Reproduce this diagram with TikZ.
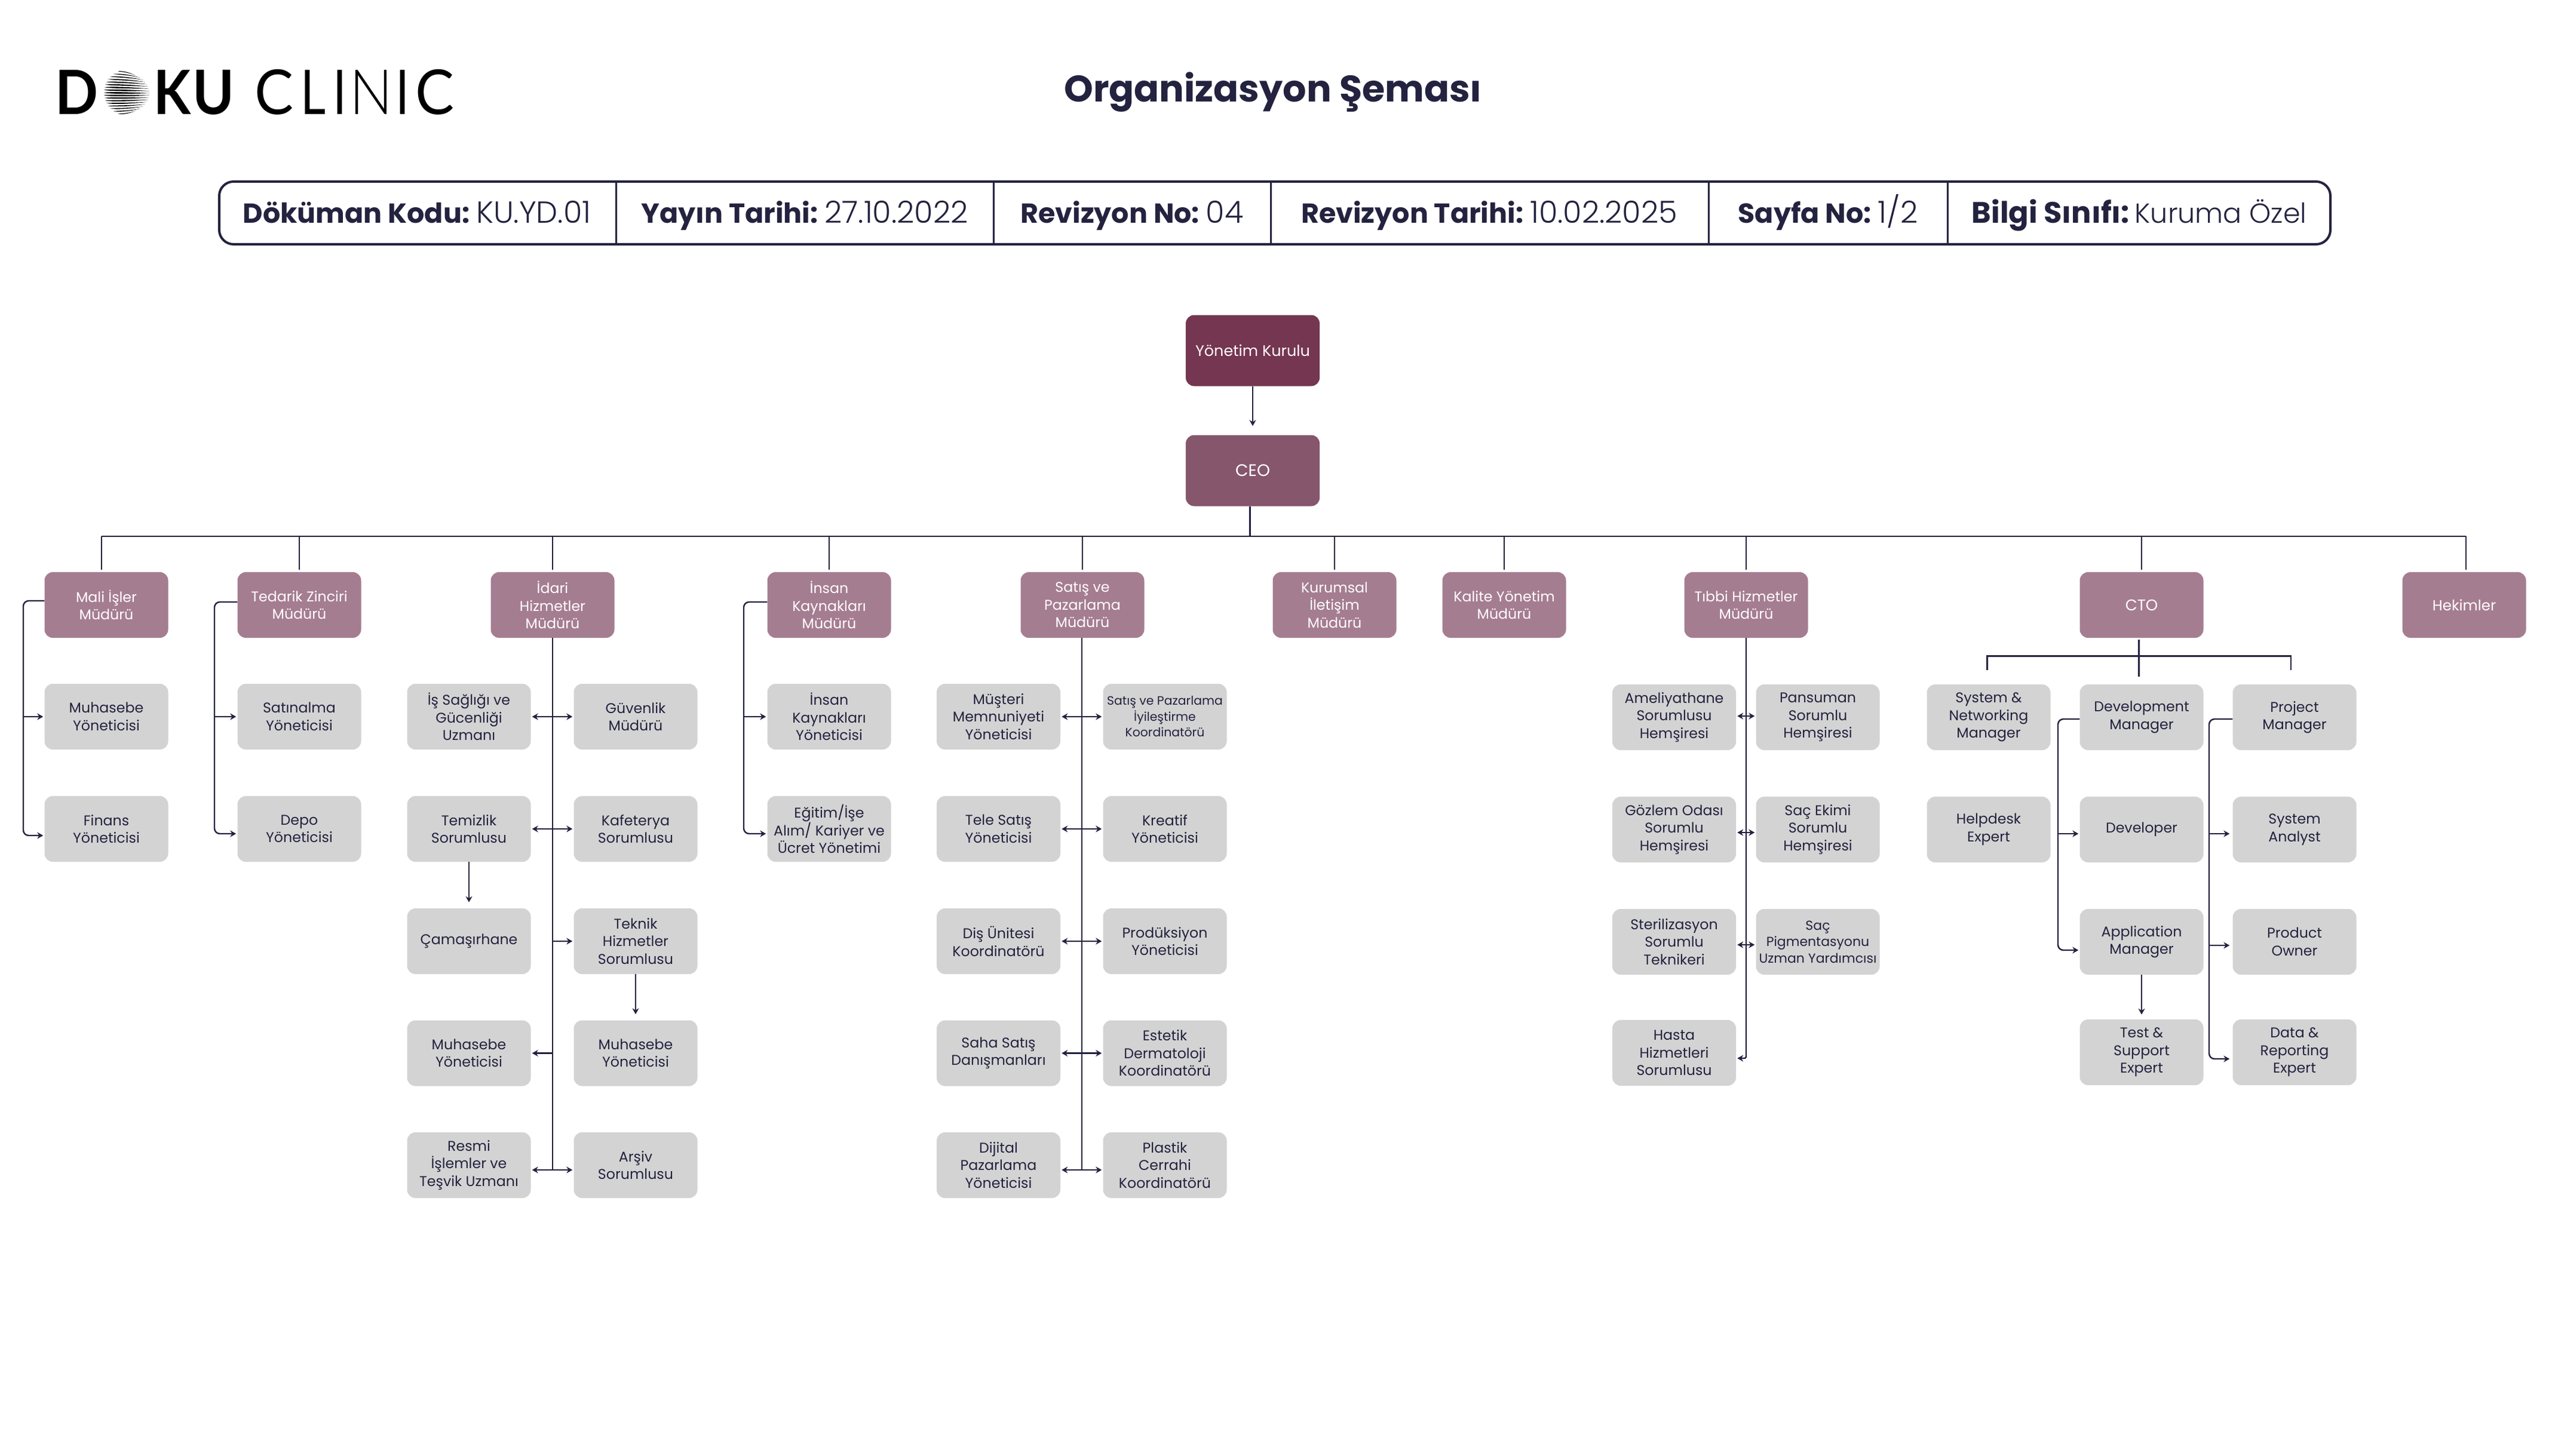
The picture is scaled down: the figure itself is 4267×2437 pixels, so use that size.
\documentclass[tikz,border=0pt]{standalone}
\usepackage{fontspec}
\setmainfont{Poppins}
\newfontfamily\hdrlight{Poppins}[UprightFont=* Light]
\newfontfamily\logobold{Lato}[UprightFont=* Bold]
\newfontfamily\logoreg{Lato}
\newfontfamily\logolight{Lato}[UprightFont=* Light]
\usetikzlibrary{arrows.meta,calc}
\definecolor{navy}{HTML}{23223F}
\definecolor{boardc}{HTML}{743650}
\definecolor{ceoc}{HTML}{85566C}
\definecolor{mgrc}{HTML}{A57D90}
\definecolor{staffc}{HTML}{D3D3D3}
\tikzset{
  box/.style={rounded corners=14pt,minimum width=207pt,minimum height=110pt,inner sep=0pt,align=center,font=\fontsize{23.7}{29.5}\selectfont},
  board/.style={box,fill=boardc,text=white,minimum width=224pt,minimum height=119pt},
  ceobox/.style={box,fill=ceoc,text=white,minimum width=224pt,minimum height=119pt},
  mgr/.style={box,fill=mgrc,text=white},
  staff/.style={box,fill=staffc,text=navy},
  small/.style={font=\fontsize{20.4}{26.5}\selectfont},
  smallb/.style={font=\fontsize{22}{27.5}\selectfont},
  conn/.style={draw=navy,line width=2.4pt},
  arr/.style={conn,-{Stealth[length=10pt,width=11pt]},shorten >=2pt},
  dbl/.style={conn,{Stealth[length=10pt,width=11pt]}-{Stealth[length=10pt,width=11pt]},shorten >=2pt,shorten <=2pt},
  elbow/.style={arr,rounded corners=9pt},
  hdrtext/.style={anchor=base,inner sep=0pt,text=navy},
  logoL/.style={anchor=south west,inner sep=0pt,text=black},
}
\newcommand{\hcell}[2]{{\fontsize{46}{60}\selectfont\bfseries #1}\hspace{11pt}{\fontsize{51}{60}\selectfont\hdrlight #2}}
\newcommand{\hcellw}[2]{{\fontsize{49.5}{60}\selectfont\bfseries #1}\hspace{9pt}{\fontsize{46}{60}\selectfont\hdrlight #2}}
\newcommand{\lgl}[3]{\resizebox*{#1pt}{#2pt}{#3}}
\begin{document}
\begin{tikzpicture}[x=1pt,y=-1pt]
\useasboundingbox (0,0) rectangle (4267,2437);
% logo
\node[logoL] (lD) at (92,192) {\lgl{72}{74}{\logobold D}};
\node[logoL] (lK) at (257,192) {\lgl{62}{74}{\logobold K}};
\node[logoL] (lU) at (322,193) {\lgl{70}{75}{\logobold U}};
\node[logoL] (lC1) at (426,193) {\lgl{65}{76}{\logoreg C}};
\node[logoL] (lL) at (503,192) {\lgl{42}{74}{\logoreg L}};
\node[logoL] (lI1) at (560.5,192) {\lgl{17}{74}{\logobold I}};
\node[logoL] (lN) at (585,192) {\lgl{72}{74}{\logolight N}};
\node[logoL] (lI2) at (665.5,192) {\lgl{17}{74}{\logobold I}};
\node[logoL] (lC2) at (695,193) {\lgl{65}{76}{\logoreg C}};
\foreach \i in {-8,...,8}{
  \pgfmathsetmacro{\yz}{155+\i*4.45}
  \pgfmathsetmacro{\hw}{sqrt(max(1,38.5*38.5-(\i*4.45)*(\i*4.45)))}
  \pgfmathsetmacro{\xl}{212-\hw}
  \pgfmathsetmacro{\xr}{212+\hw}
  \pgfmathsetmacro{\yr}{155+\i*3.7+1}
  \pgfmathsetmacro{\th}{1.7*(1-abs(\i)/14)}
  \fill[black] (\xl,\yz) .. controls ({\xl+0.3*\hw},{\yz-\th}) and ({\xl+1.1*\hw},{\yz-0.4*\th}) .. (\xr,\yr)
     .. controls ({\xl+1.1*\hw},{\yz+1.3*\th}) and ({\xl+0.3*\hw},{\yz+1.6*\th}) .. (\xl,\yz);
}
% title
\node[anchor=base,inner sep=0pt,text=navy,font=\fontsize{62}{64}\selectfont\bfseries] (title) at (2131,170) {Organizasyon Şeması};
% header table
\node[draw=navy,line width=4pt,rounded corners=24pt,minimum width=3534pt,minimum height=105pt,inner sep=0pt] (hdr) at (2134,356.5) {};
\foreach \x/\n in {1031/a,1663/b,2127/c,2860/d,3260/e}{
  \coordinate (div\n) at (\x,0);
  \draw[navy,line width=3pt] (div\n |- hdr.north) -- (div\n |- hdr.south);
}
\node[hdrtext] (h1) at (698,373) {\hcell{Döküman Kodu:}{KU.YD.01}};
\node[hdrtext] (h2) at (1347,373) {\hcell{Yayın Tarihi:}{27.10.2022}};
\node[hdrtext] (h3) at (1895,373) {\hcell{Revizyon No:}{04}};
\node[hdrtext] (h4) at (2493,373) {\hcell{Revizyon Tarihi:}{10.02.2025}};
\node[hdrtext] (h5) at (3060,373) {\hcell{Sayfa No:}{1/2}};
\node[hdrtext] (h6) at (3581,373) {\hcellw{Bilgi Sınıfı:}{Kuruma Özel}};
% top
\node[board,font=\fontsize{25.5}{30}\selectfont] (yk) at (2097,587) {Yönetim Kurulu};
\node[ceobox,font=\fontsize{28}{30}\selectfont] (ceo) at (2097,788) {CEO};
\draw[arr,shorten >=15pt] (yk.south) -- (ceo.north);
% managers
\node[mgr] (mali) at (178,1013) {Mali İşler\\Müdürü};
\node[mgr] (ted) at (501,1013) {Tedarik Zinciri\\Müdürü};
\node[mgr] (ida) at (925,1013) {İdari\\Hizmetler\\Müdürü};
\node[mgr] (ins) at (1388,1013) {İnsan\\Kaynakları\\Müdürü};
\node[mgr] (sat) at (1812,1013) {Satış ve\\Pazarlama\\Müdürü};
\node[mgr] (kur) at (2234,1013) {Kurumsal\\İletişim\\Müdürü};
\node[mgr] (kal) at (2518,1013) {Kalite Yönetim\\Müdürü};
\node[mgr] (tib) at (2923,1013) {Tıbbi Hizmetler\\Müdürü};
\node[mgr,font=\fontsize{26}{30}\selectfont] (cto) at (3585,1013) {CTO};
\node[mgr,font=\fontsize{24.5}{30}\selectfont] (hek) at (4125,1013) {Hekimler};
% bus
\coordinate (bus) at (0,898);
\coordinate (ceoO) at ([xshift=-4.5pt]ceo.south);
\coordinate (maliI) at ([xshift=-8pt,yshift=4pt]mali.north);
\coordinate (hekI) at ([xshift=3pt,yshift=4pt]hek.north);
\draw[conn,line width=3pt] (ceoO) -- (bus -| ceoO);
\draw[conn,line width=2.8pt] (bus -| maliI) -- (bus -| hekI);
\draw[conn] (bus -| maliI) -- (maliI);
\foreach \n in {ted,ida,ins,sat,kur,kal,tib,cto}{
  \draw[conn] (bus -| \n.north) -- ([yshift=4pt]\n.north);
}
\draw[conn] (bus -| hekI) -- (hekI);
% Mali
\node[staff] (m1) at (178,1200) {Muhasebe\\Yöneticisi};
\node[staff] (m2) at (178,1388) {Finans\\Yöneticisi};
\coordinate (sm) at (39,1006);
\draw[elbow] ([yshift=7pt]mali.west) -- (sm) |- ([yshift=-11pt]m2.west);
\draw[arr] (sm |- m1.west) -- (m1.west);
% Tedarik
\node[staff] (t1) at (501,1200) {Satınalma\\Yöneticisi};
\node[staff] (t2) at (501,1388) {Depo\\Yöneticisi};
\coordinate (st) at (359,1008);
\draw[elbow] ([yshift=5pt]ted.west) -- (st) |- ([yshift=-8pt]t2.west);
\draw[arr] (st |- t1.west) -- (t1.west);
% Insan
\node[staff] (i1) at (1388,1200) {İnsan\\Kaynakları\\Yöneticisi};
\node[staff] (i2) at (1388,1388) {Eğitim/İşe\\Alım/ Kariyer ve\\Ücret Yönetimi};
\coordinate (si) at (1245,1008);
\draw[elbow] ([yshift=5pt]ins.west) -- (si) |- ([yshift=-8pt]i2.west);
\draw[arr] (si |- i1.west) -- (i1.west);
% Idari
\node[staff] (a1) at (785,1200) {İş Sağlığı ve\\Gücenliği\\Uzmanı};
\node[staff] (b1) at (1064,1200) {Güvenlik\\Müdürü};
\node[staff] (a2) at (785,1388) {Temizlik\\Sorumlusu};
\node[staff] (b2) at (1064,1388) {Kafeterya\\Sorumlusu};
\node[staff] (a3) at (785,1576) {Çamaşırhane};
\node[staff] (b3) at (1064,1576) {Teknik\\Hizmetler\\Sorumlusu};
\node[staff] (a4) at (785,1763.5) {Muhasebe\\Yöneticisi};
\node[staff] (b4) at (1064,1763.5) {Muhasebe\\Yöneticisi};
\node[staff] (a5) at (785,1951) {Resmi\\İşlemler ve\\Teşvik Uzmanı};
\node[staff] (b5) at (1064,1951) {Arşiv\\Sorumlusu};
\coordinate (sa) at (925,1959);
\draw[conn] (ida.south) -- (sa);
\draw[dbl] (a1.east) -- (b1.west);
\draw[dbl] (a2.east) -- (b2.west);
\draw[arr] (sa |- b3.west) -- (b3.west);
\draw[arr] (sa |- a4.east) -- (a4.east);
\draw[dbl] ([yshift=-8pt]a5.east) -- ([yshift=-8pt]b5.west);
\draw[arr,shorten >=10pt] (a2.south) -- (a3.north);
\draw[arr,shorten >=10pt] (b3.south) -- (b4.north);
% Satis
\node[staff] (c1) at (1671.5,1200) {Müşteri\\Memnuniyeti\\Yöneticisi};
\node[staff,small] (d1) at (1950,1200) {Satış ve Pazarlama\\İyileştirme\\Koordinatörü};
\node[staff] (c2) at (1671.5,1388) {Tele Satış\\Yöneticisi};
\node[staff] (d2) at (1950,1388) {Kreatif\\Yöneticisi};
\node[staff] (c3) at (1671.5,1576) {Diş Ünitesi\\Koordinatörü};
\node[staff] (d3) at (1950,1576) {Prodüksiyon\\Yöneticisi};
\node[staff] (c4) at (1671.5,1763.5) {Saha Satış\\Danışmanları};
\node[staff] (d4) at (1950,1763.5) {Estetik\\Dermatoloji\\Koordinatörü};
\node[staff] (c5) at (1671.5,1951) {Dijital\\Pazarlama\\Yöneticisi};
\node[staff] (d5) at (1950,1951) {Plastik\\Cerrahi\\Koordinatörü};
\coordinate (ss) at (1810.7,1959);
\draw[conn] (ss |- sat.south) -- (ss);
\foreach \k in {1,2,3,4}{\draw[dbl] (c\k.east) -- (d\k.west);}
\draw[dbl] ([yshift=-8pt]c5.east) -- ([yshift=-8pt]d5.west);
% Tibbi
\node[staff] (e1) at (2802.5,1201) {Ameliyathane\\Sorumlusu\\Hemşiresi};
\node[staff] (f1) at (3043,1201) {Pansuman\\Sorumlu\\Hemşiresi};
\node[staff] (e2) at (2802.5,1389) {Gözlem Odası\\Sorumlu\\Hemşiresi};
\node[staff] (f2) at (3043,1389) {Saç Ekimi\\Sorumlu\\Hemşiresi};
\node[staff] (e3) at (2802.5,1577) {Sterilizasyon\\Sorumlu\\Teknikeri};
\node[staff,smallb] (f3) at (3043,1577) {Saç\\Pigmentasyonu\\Uzman Yardımcısı};
\node[staff] (e4) at (2802.5,1763) {Hasta\\Hizmetleri\\Sorumlusu};
\coordinate (sb) at (2923,1772);
\draw[elbow,rounded corners=3pt] (tib.south) -- (sb) -- ([yshift=-9pt]e4.east);
\draw[dbl] ([yshift=2pt]e1.east) -- ([yshift=2pt]f1.west);
\draw[dbl] ([yshift=-5pt]e2.east) -- ([yshift=-5pt]f2.west);
\draw[dbl] ([yshift=-5pt]e3.east) -- ([yshift=-5pt]f3.west);
% CTO
\node[staff] (g1) at (3329,1201) {System \&\\Networking\\Manager};
\node[staff] (g2) at (3329,1389) {Helpdesk\\Expert};
\node[staff] (h1b) at (3585,1201) {Development\\Manager};
\node[staff] (h2b) at (3585,1389) {Developer};
\node[staff] (h3b) at (3585,1577) {Application\\Manager};
\node[staff] (h4b) at (3585,1762) {Test \&\\Support\\Expert};
\node[staff] (j1) at (3841,1201) {Project\\Manager};
\node[staff] (j2) at (3841,1389) {System\\Analyst};
\node[staff] (j3) at (3841,1577) {Product\\Owner};
\node[staff] (j4) at (3841,1762) {Data \&\\Reporting\\Expert};
\coordinate (ctob) at (3580.6,1098.5);
\draw[conn] ([xshift=-4.4pt,yshift=-3pt]cto.south) -- ([xshift=-4.4pt,yshift=13pt]h1b.north);
\draw[conn] ([xshift=-2.5pt,yshift=24pt]g1.north) |- (ctob) -| ([xshift=-6pt,yshift=24pt]j1.north);
\coordinate (sh) at (3445,1204);
\coordinate (ph2) at ([yshift=-7pt]h2b.west);
\draw[elbow] ([yshift=-3pt]h1b.west) -- (sh) |- ([yshift=-14pt]h3b.west);
\draw[arr] (sh |- ph2) -- (ph2);
\draw[arr,shorten >=8pt] (h3b.south) -- (h4b.north);
\coordinate (sj) at (3698,1204);
\coordinate (pj2) at ([yshift=-7pt]j2.west);
\coordinate (pj3) at ([yshift=-6pt]j3.west);
\draw[elbow,shorten >=5pt] ([yshift=-3pt]j1.west) -- (sj) |- ([yshift=-11pt]j4.west);
\draw[arr,shorten >=5pt] (sj |- pj2) -- (pj2);
\draw[arr,shorten >=5pt] (sj |- pj3) -- (pj3);
\end{tikzpicture}
\end{document}
